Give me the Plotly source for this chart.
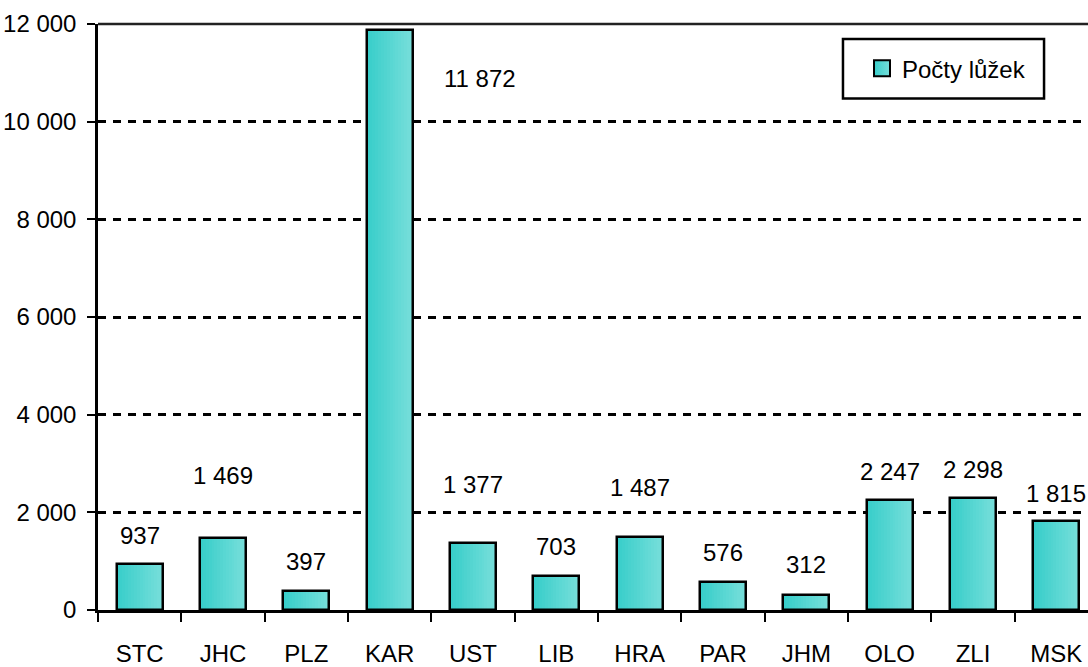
import plotly.graph_objects as go

categories = ["STC", "JHC", "PLZ", "KAR", "UST", "LIB", "HRA", "PAR", "JHM", "OLO", "ZLI", "MSK"]
beds = [937, 1469, 397, 11872, 1377, 703, 1487, 576, 312, 2247, 2298, 1815]
series_name = "Počty lůžek"
y_ticks = [0, 2000, 4000, 6000, 8000, 10000, 12000]

# label offsets (pixels) - styling only
label_yshift = [29, 63, 29, -48, 58, 29, 50, 29, 30, 29, 28, 28]
label_xshift = [0, 0, 0, 90, 0, 0, 0, 0, 0, 0, 0, 0]

FONT = "Liberation Sans, Arial, sans-serif"
FS = 24

def rgb(c):
    return "rgb(%d,%d,%d)" % c

def lerp(c1, c2, t):
    return "rgb(%d,%d,%d)" % tuple(round(a + (b - a) * t) for a, b in zip(c1, c2))

left_c = (0x38, 0xCE, 0xCA)
right_c = (0x76, 0xDE, 0xDA)

bar_w = 0.55
N = 16
fig = go.Figure()
for i in range(N):
    fig.add_trace(go.Bar(
        x=categories, y=beds, width=bar_w / N, offset=-bar_w / 2 + i * bar_w / N,
        marker=dict(color=lerp(left_c, right_c, i / (N - 1)), line=dict(width=0)),
        showlegend=False, hoverinfo="skip"))

# outline
fig.add_trace(go.Bar(
    x=categories, y=beds, width=bar_w, offset=-bar_w / 2,
    marker=dict(color="rgba(0,0,0,0)", line=dict(color="black", width=2.5)),
    showlegend=False, name=series_name))

# legend entry
fig.add_trace(go.Scatter(
    x=[None], y=[None], mode="markers", name=series_name,
    marker=dict(symbol="square", size=16, color=rgb(left_c),
                gradient=dict(type="horizontal", color=rgb(right_c)),
                line=dict(color="black", width=2)),
    showlegend=True))

for c, v, dy, dx in zip(categories, beds, label_yshift, label_xshift):
    fig.add_annotation(x=c, y=v, text=f"{v:,}".replace(",", " "), showarrow=False,
                       yshift=dy, xshift=dx, yanchor="middle",
                       font=dict(family=FONT, size=FS, color="black"))

# top border line at 12 000
fig.add_shape(type="line", xref="paper", yref="paper", x0=0, x1=1, y0=1, y1=1,
              line=dict(color="#222222", width=2.5), layer="above")
# legend frame
fig.add_shape(type="rect", xref="paper", yref="paper", x0=0.7525, x1=0.9556,
              y0=0.8727, y1=0.9745, line=dict(color="black", width=2.5),
              fillcolor="white", layer="above")

fig.update_layout(
    width=1088, height=667,
    margin=dict(l=98, r=0, t=24, b=54),
    plot_bgcolor="white", paper_bgcolor="white",
    barmode="overlay", bargap=0,
    separators=", ",
    font=dict(family=FONT, size=FS, color="black"),
    showlegend=True,
    legend=dict(x=0.7717, y=0.9236, xanchor="left", yanchor="middle",
                borderwidth=0, bgcolor="rgba(0,0,0,0)",
                font=dict(family=FONT, size=FS), itemwidth=30),
    xaxis=dict(type="category", range=[-0.5, 11.38], showline=True, linecolor="black",
               linewidth=2.5, ticks="outside", tickson="boundaries", ticklen=9,
               tickwidth=2, tickcolor="black", showgrid=False, zeroline=False,
               ticklabelstandoff=20,
               tickfont=dict(family=FONT, size=FS)),
    yaxis=dict(range=[0, 12000], tickvals=y_ticks, tickformat=",d", showline=True,
               linecolor="black", linewidth=2.5, ticks="outside", ticklen=8,
               tickwidth=2, tickcolor="black", showgrid=True, gridcolor="black",
               gridwidth=2.5, griddash="8px,7px", zeroline=False,
               ticklabelstandoff=6,
               tickfont=dict(family=FONT, size=FS)),
)

fig.write_html("out.html", config={"displayModeBar": False},
               post_script="document.body.style.margin='0';document.body.style.overflow='hidden';")
